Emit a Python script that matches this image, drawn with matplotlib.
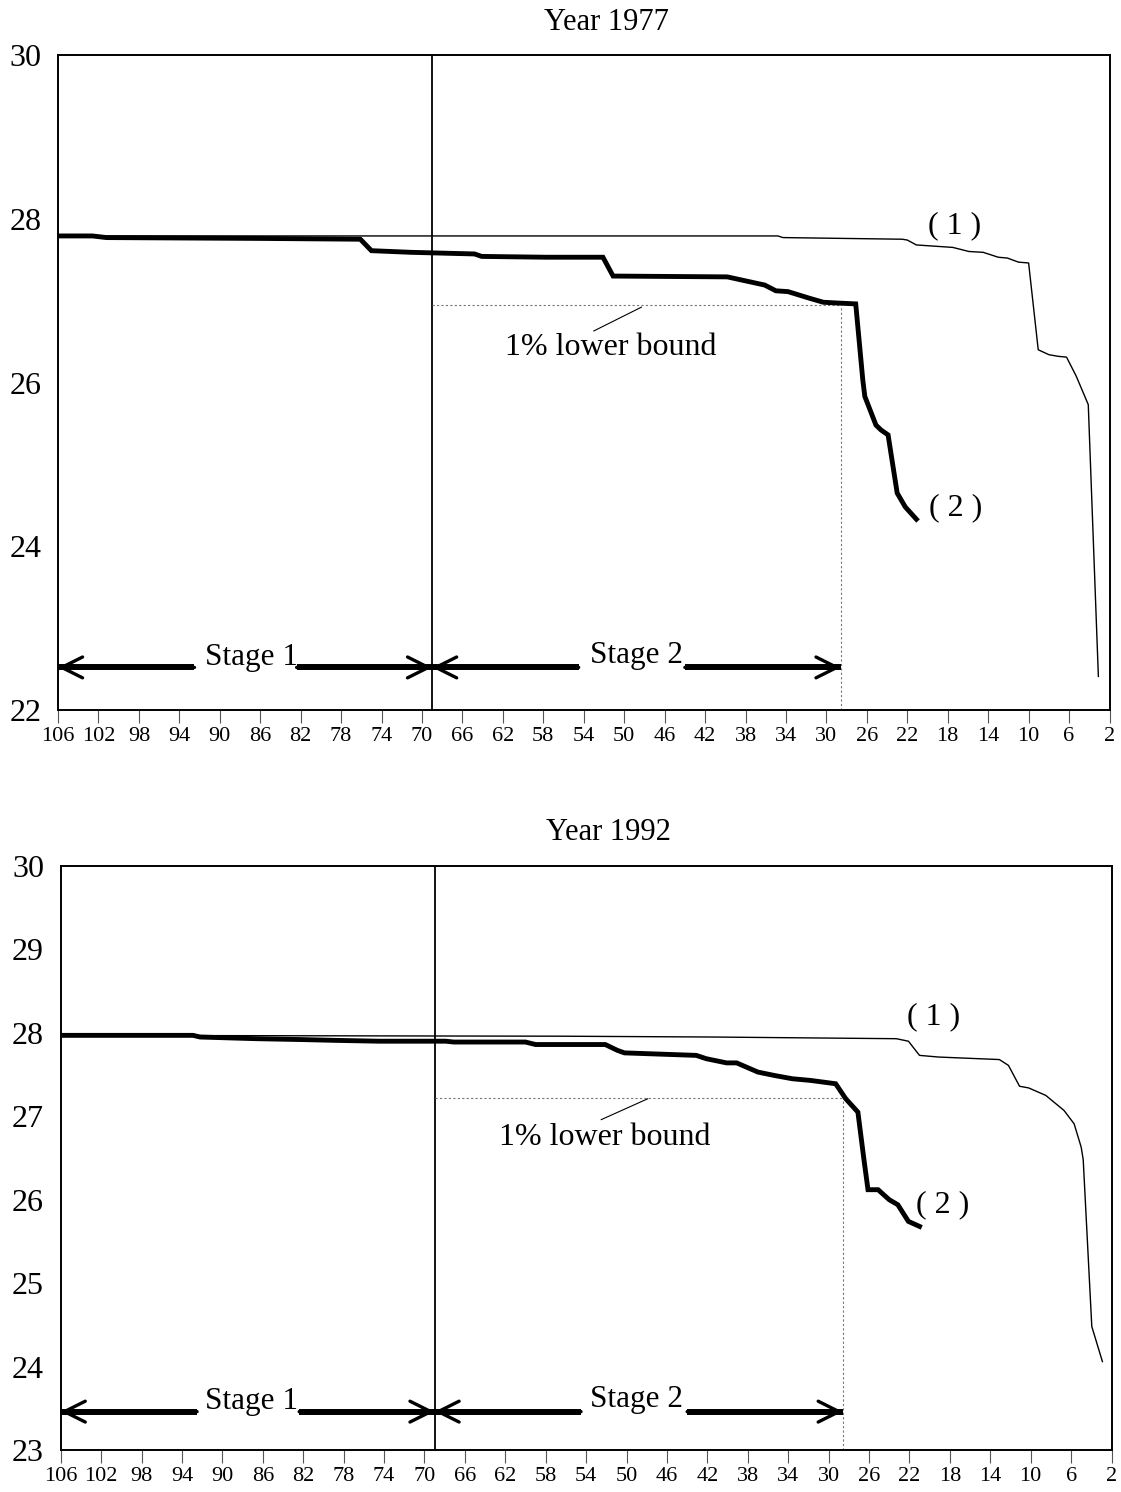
import matplotlib
matplotlib.use('Agg')
import matplotlib.pyplot as plt
from matplotlib.patches import FancyArrowPatch

plt.rcParams['font.family'] = ['Liberation Serif', 'DejaVu Serif']

# ---------------- data ----------------
# Year 1977
x77_series1 = [106, 34.8, 34.3, 22.5, 22.0, 21.1, 17.5, 15.9, 14.5, 13.0, 12.1, 11.0, 10.0,
               9.05, 8.0, 7.1, 6.25, 5.3, 4.1, 3.1]
y77_series1 = [27.79, 27.79, 27.77, 27.75, 27.74, 27.68, 27.65, 27.60, 27.59, 27.53, 27.52, 27.47, 27.46,
               26.40, 26.34, 26.32, 26.31, 26.08, 25.73, 22.41]
x77_series2 = [106, 102.6, 101.2, 86.3, 76.1, 75.0, 71.1, 64.8, 64.1, 57.7, 52.1, 51.1, 39.8, 36.1,
               35.0, 33.8, 31.7, 30.3, 28.8, 27.1, 26.4, 26.2, 25.1, 24.6, 23.9, 23.0, 22.2, 21.1]
y77_series2 = [27.79, 27.79, 27.77, 27.76, 27.75, 27.61, 27.59, 27.57, 27.54, 27.53, 27.53, 27.30, 27.29, 27.19,
               27.12, 27.11, 27.03, 26.98, 26.97, 26.96, 26.03, 25.83, 25.48, 25.42, 25.36, 24.65, 24.48, 24.33]
lower77 = 26.95

# Year 1992
x92_series1 = [106, 56.6, 41.4, 23.3, 22.1, 21.0, 19.1, 13.1, 12.2, 11.1, 10.2, 8.5, 6.7, 5.7,
               5.0, 4.8, 3.95, 2.9]
y92_series1 = [27.97, 27.96, 27.95, 27.93, 27.90, 27.73, 27.71, 27.68, 27.61, 27.36, 27.34, 27.25, 27.07, 26.91,
               26.63, 26.48, 24.48, 24.06]
x92_series2 = [106, 92.9, 92.2, 86.6, 82.3, 78.8, 74.5, 67.9, 67.1, 60.0, 59.0, 56.6, 52.1, 50.9, 50.2,
               43.1, 42.1, 40.1, 39.1, 37.0, 35.4, 33.6, 31.8, 29.3, 28.3, 27.1, 26.5, 26.1, 25.1,
               24.0, 23.15, 22.1, 21.0]
y92_series2 = [27.97, 27.97, 27.95, 27.93, 27.92, 27.91, 27.90, 27.90, 27.89, 27.89, 27.86, 27.86, 27.86, 27.79,
               27.76, 27.73, 27.69, 27.64, 27.64, 27.53, 27.49, 27.45, 27.43, 27.39, 27.21, 27.05, 26.48,
               26.12, 26.12, 26.0, 25.94, 25.74, 25.68]
lower92 = 27.22

stage_split = 69      # boundary between stage 1 and stage 2
stage2_end = 28.6     # end of stage 2 (1% lower bound reached)
x_ticks = list(range(106, 1, -4))

panels = [
    dict(title="Year 1977", x1=x77_series1, y1=y77_series1, x2=x77_series2, y2=y77_series2,
         lower=lower77, ylim=(22, 30), yticks=[22, 24, 26, 28, 30],
         pos=[58 / 1121, 1 - 710 / 1492, 1051.5 / 1121, 655 / 1492],
         arrow_y=22.52, lab1=(17.3, 27.92), lab2=(17.2, 24.47),
         lbtext=(51.3, 26.43), leader=((53.0, 26.63), (48.3, 26.92)),
         s1x=86.9, s2x=48.8),
    dict(title="Year 1992", x1=x92_series1, y1=y92_series1, x2=x92_series2, y2=y92_series2,
         lower=lower92, ylim=(23, 30), yticks=[23, 24, 25, 26, 27, 28, 29, 30],
         pos=[60.7 / 1121, 1 - 1450 / 1492, 1050.8 / 1121, 584 / 1492],
         arrow_y=23.46, lab1=(19.6, 28.19), lab2=(18.7, 25.94),
         lbtext=(52.2, 26.75), leader=((52.5, 26.96), (47.9, 27.21)),
         s1x=87.1, s2x=49.0),
]

fig = plt.figure(figsize=(11.21, 14.92), dpi=100)

def stage_arrow(ax, tail, head, y):
    ax.plot([tail, head], [y, y], color='black', lw=4.3, solid_capstyle='butt', zorder=4)
    arr = FancyArrowPatch((tail, y), (head, y), arrowstyle='->,head_length=1.0,head_width=0.5',
                          mutation_scale=15, lw=2.4, color='black', shrinkA=0, shrinkB=0, zorder=5)
    ax.add_patch(arr)

for p in panels:
    ax = fig.add_axes(p['pos'])
    ax.set_xlim(106, 2)
    ax.set_ylim(*p['ylim'])
    ax.set_xticks(x_ticks)
    ax.set_xticklabels([str(t) for t in x_ticks])
    ax.set_yticks(p['yticks'])
    ax.tick_params(axis='x', direction='out', length=9.5, width=0.8, color='#555555',
                   labelsize=16, pad=3)
    ax.tick_params(axis='y', length=0, labelsize=23, pad=12)
    for s in ax.spines.values():
        s.set_linewidth(1.4)

    ax.plot(p['x1'], p['y1'], color='black', lw=1.0, zorder=3)
    ax.plot(p['x2'], p['y2'], color='black', lw=3.5, solid_joinstyle='miter', zorder=3)

    ax.axvline(stage_split, color='black', lw=1.3, zorder=2)
    ax.plot([stage_split, stage2_end], [p['lower'], p['lower']], color='#777777', lw=0.8,
            linestyle=(0, (2, 2)), zorder=2)
    ax.plot([stage2_end, stage2_end], [p['ylim'][0], p['lower']], color='#777777', lw=0.8,
            linestyle=(0, (2, 2)), zorder=2)

    ax.text(0.5215, 1.0 + 33 / (p['pos'][3] * 1492), p['title'], transform=ax.transAxes,
            ha='center', va='center', fontsize=22)

    ax.text(*p['lab1'], "( 1 )", ha='center', va='center', fontsize=23)
    ax.text(*p['lab2'], "( 2 )", ha='center', va='center', fontsize=23)

    ax.text(*p['lbtext'], "1% lower bound", ha='center', va='center', fontsize=23)
    (lx0, ly0), (lx1, ly1) = p['leader']
    ax.plot([lx0, lx1], [ly0, ly1], color='black', lw=0.8)

    ay = p['arrow_y']
    stage_arrow(ax, 92.5, 106, ay)
    stage_arrow(ax, 82.4, stage_split, ay)
    stage_arrow(ax, 54.5, stage_split, ay)
    stage_arrow(ax, 44.0, stage2_end, ay)
    ax.text(p['s1x'], ay + 0.03, "Stage 1", ha='center', va='baseline', fontsize=22.5)
    ax.text(p['s2x'], ay + 0.06, "Stage 2", ha='center', va='baseline', fontsize=22.5)

fig.savefig('out.png', dpi=100)
